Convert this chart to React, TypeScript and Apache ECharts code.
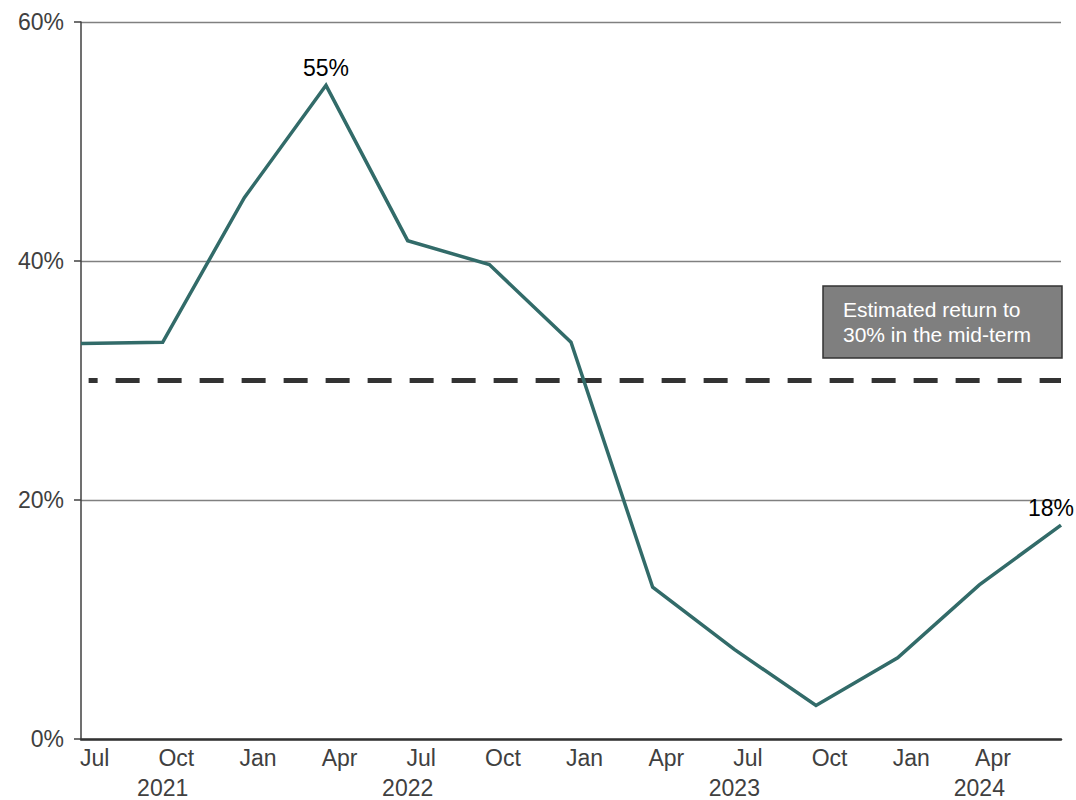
import React, { useEffect, useRef } from "react";
import * as echarts from "echarts";

// Quarter-end observations, Jun 2021 .. Jun 2024
const quarters = [
  "Jun 2021", "Sep 2021", "Dec 2021", "Mar 2022", "Jun 2022", "Sep 2022",
  "Dec 2022", "Mar 2023", "Jun 2023", "Sep 2023", "Dec 2023", "Mar 2024", "Jun 2024",
];
const values = [33.1, 33.2, 45.3, 54.7, 41.7, 39.7, 33.2, 12.7, 7.5, 2.8, 6.8, 12.9, 17.9];
const labelledPoints: Record<number, string> = { 3: "55%", 12: "18%" };

const monthLabels = ["Jul", "Oct", "Jan", "Apr", "Jul", "Oct", "Jan", "Apr", "Jul", "Oct", "Jan", "Apr"];
const yearLabels = ["2021", "2022", "2023", "2024"];
const yearCentres = [3, 12, 24, 33]; // months from end of Jun 2021

const targetLevel = 30;
const annotationText = "Estimated return to\n30% in the mid-term";

const FONT = "'Liberation Sans', Arial, sans-serif";

export default function App() {
  const ref = useRef<HTMLDivElement>(null);

  useEffect(() => {
    if (!ref.current) return;
    const chart = echarts.init(ref.current, undefined, { renderer: "svg" });

    const seriesData = values.map((v, i) => {
      const item: any = { value: [i * 3, v], name: quarters[i] };
      if (labelledPoints[i]) {
        item.label = {
          show: true,
          formatter: labelledPoints[i],
          position: "top",
          distance: 6,
          offset: i === values.length - 1 ? [-10, 0] : [0, 0],
          color: "#000",
          fontSize: 23,
          fontFamily: FONT,
        };
      }
      return item;
    });

    const monthFormatter = (v: number) => {
      const k = (v - 0.5) / 3;
      if (Number.isInteger(k) && k >= 0 && k < monthLabels.length) return monthLabels[k];
      return "";
    };
    const yearFormatter = (v: number) => {
      const yi = yearCentres.indexOf(v);
      return yi >= 0 ? yearLabels[yi] : "";
    };

    const baseX = {
      type: "value",
      min: 0,
      max: 36,
      interval: 0.5,
      position: "bottom",
      axisTick: { show: false },
      splitLine: { show: false },
    };

    chart.setOption({
      animation: false,
      textStyle: { fontFamily: FONT },
      grid: { left: 81, right: 15, top: 22, bottom: 61, outerBoundsMode: "none", containLabel: false },
      xAxis: [
        {
          ...baseX,
          axisLine: { show: true, lineStyle: { color: "#333", width: 2.5 } },
          axisLabel: {
            formatter: monthFormatter,
            fontSize: 23,
            lineHeight: 23,
            color: "#404040",
            margin: 7,
            fontFamily: FONT,
          },
        },
        {
          ...baseX,
          axisLine: { show: false },
          axisLabel: {
            formatter: yearFormatter,
            fontSize: 23,
            lineHeight: 18,
            color: "#404040",
            margin: 40,
            fontFamily: FONT,
          },
        },
      ],
      yAxis: {
        type: "value",
        min: 0,
        max: 60,
        interval: 20,
        axisLine: { show: true, lineStyle: { color: "#404040", width: 1.5 } },
        axisTick: { show: true, length: 7, lineStyle: { color: "#404040", width: 1.5 } },
        splitLine: { show: true, lineStyle: { color: "#808080", width: 1.3 } },
        axisLabel: {
          formatter: "{value}%",
          fontSize: 23,
          color: "#404040",
          margin: 17,
          fontFamily: FONT,
        },
      },
      series: [
        {
          type: "line",
          xAxisIndex: 0,
          data: [[0.28, targetLevel], [36, targetLevel]],
          symbol: "none",
          silent: true,
          lineStyle: { color: "#333", width: 5, type: [24, 18], dashOffset: 15, cap: "butt" },
          z: 1,
        },
        {
          type: "line",
          xAxisIndex: 0,
          data: seriesData,
          symbol: "circle",
          symbolSize: 0,
          showSymbol: true,
          itemStyle: { color: "#326B69" },
          lineStyle: { color: "#326B69", width: 3.5, join: "miter" },
          z: 3,
        },
      ],
      graphic: [
        {
          type: "rect",
          shape: { x: 823, y: 286, width: 239, height: 72 },
          style: { fill: "#7f7f7f", stroke: "#333", lineWidth: 1.5 },
          z: 10,
        },
        {
          type: "text",
          x: 843,
          y: 297,
          style: {
            text: annotationText,
            fill: "#fff",
            fontSize: 21,
            lineHeight: 25,
            fontFamily: FONT,
            align: "left",
            verticalAlign: "top",
          },
          z: 11,
        },
      ],
    });

    return () => chart.dispose();
  }, []);

  return (
    <div
      ref={ref}
      style={{ position: "fixed", left: 0, top: 0, width: 1076, height: 800, background: "#fff" }}
    />
  );
}
